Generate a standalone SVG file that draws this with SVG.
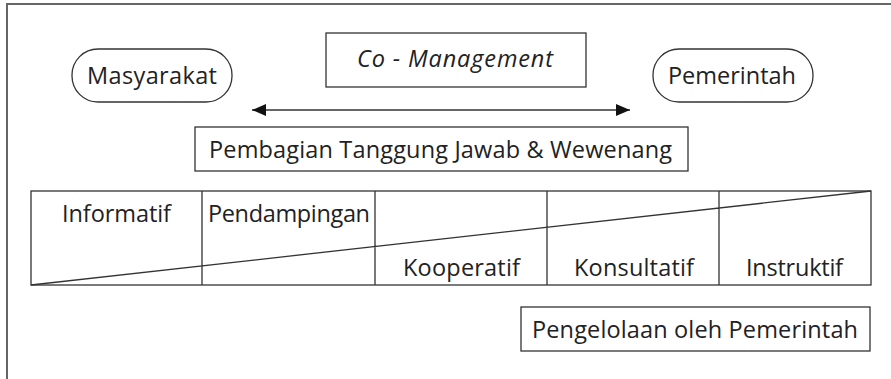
<svg xmlns="http://www.w3.org/2000/svg" width="891" height="379" viewBox="0 0 891 379">
<style>
.t{font-family:"Open Sans","Liberation Sans",Arial,sans-serif;font-size:23.5px;fill:#222}
.b{fill:#fff;stroke:#333;stroke-width:1.3}
.l{stroke:#333;stroke-width:1.3;fill:none}
</style>
<defs>
<marker id="ah" viewBox="0 0 14 12" refX="14" refY="6" markerWidth="14" markerHeight="12" markerUnits="userSpaceOnUse" orient="auto-start-reverse">
<path d="M0,0 L14,6 L0,12 Z" fill="#111"/>
</marker>
</defs>
<rect width="891" height="379" fill="#fff"/>
<path d="M7,379 V4 H891" fill="none" stroke="#666" stroke-width="2"/>
<g id="masyarakat"><rect class="b" x="72" y="49" width="160" height="53" rx="26"/><text class="t" x="87" y="84" textLength="130">Masyarakat</text></g>
<g id="comanagement"><rect class="b" x="326" y="33" width="260" height="54"/><text class="t" x="357" y="67" textLength="196" font-style="italic">Co - Management</text></g>
<g id="pemerintah"><rect class="b" x="653" y="49" width="160" height="53" rx="26"/><text class="t" x="668" y="84" textLength="128">Pemerintah</text></g>
<g id="connectors"><line class="l" x1="252" y1="110" x2="630" y2="110" marker-start="url(#ah)" marker-end="url(#ah)"/></g>
<g id="pembagian"><rect class="b" x="195" y="127" width="493" height="44"/><text class="t" x="209" y="158" textLength="463">Pembagian Tanggung Jawab &amp; Wewenang</text></g>
<g id="table">
<rect class="l" x="31" y="191" width="840" height="94"/>
<path class="l" d="M202,191 V285 M375,191 V285 M547,191 V285 M719,191 V285 M31,285 L871,191"/>
<text class="t" x="62" y="222" textLength="109">Informatif</text>
<text class="t" x="208" y="222" textLength="162">Pendampingan</text>
<text class="t" x="403" y="276" textLength="117">Kooperatif</text>
<text class="t" x="574" y="276" textLength="120">Konsultatif</text>
<text class="t" x="746" y="276" textLength="97">Instruktif</text>
</g>
<g id="pengelolaan"><rect class="b" x="521" y="307" width="349" height="44"/><text class="t" x="532" y="338" textLength="326">Pengelolaan oleh Pemerintah</text></g>
</svg>
